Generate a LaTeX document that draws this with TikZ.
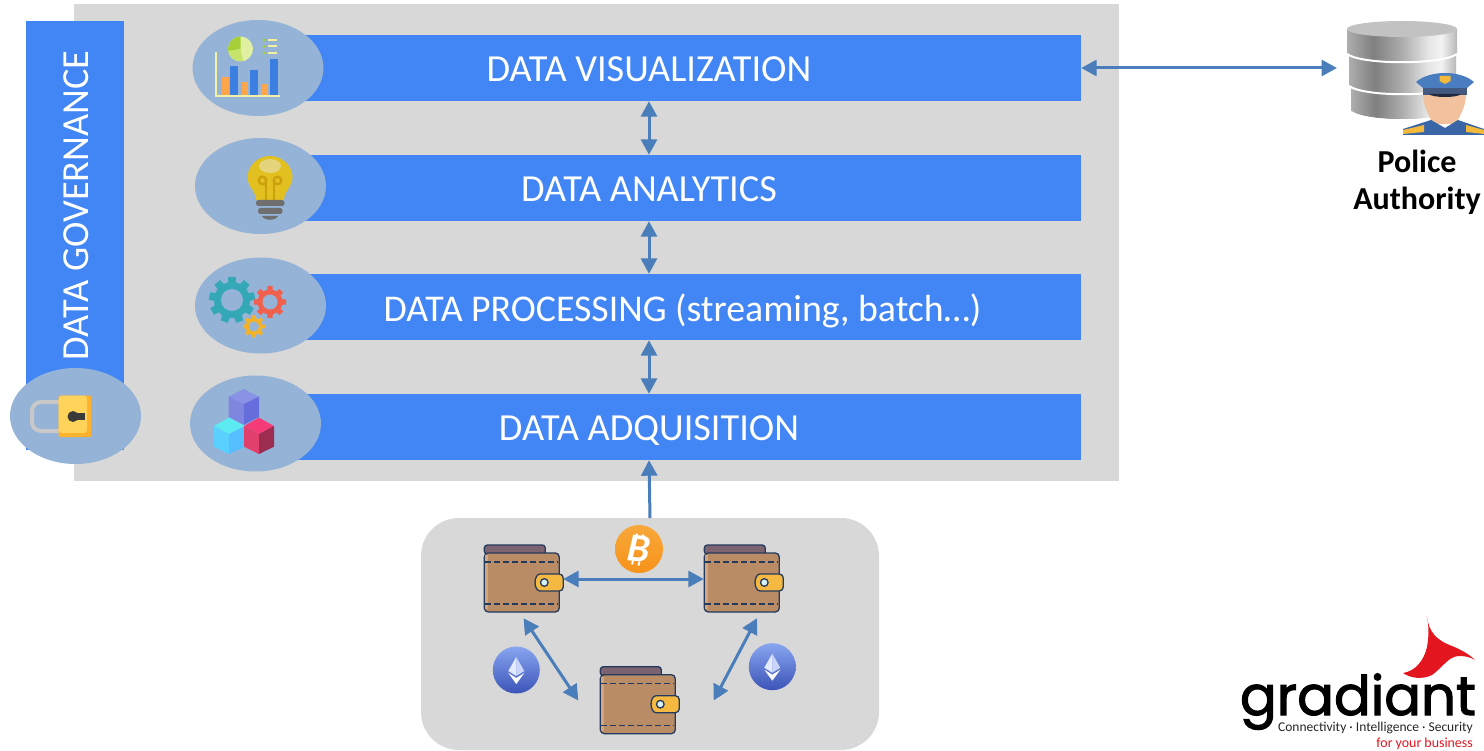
\documentclass[tikz,border=0pt]{standalone}
\usepackage{fontspec}
\setmainfont{Carlito}
\newfontfamily\logofont[FakeBold=2]{Poppins}
\usetikzlibrary{arrows.meta,calc,shapes.geometric}
\definecolor{panelgray}{HTML}{D8D8D8}
\definecolor{barblue}{HTML}{4285F4}
\definecolor{halocol}{HTML}{94B3D7}
\definecolor{conn}{HTML}{4A7EBB}
\definecolor{woutline}{HTML}{233A5E}
\definecolor{wbody}{HTML}{B98C66}
\definecolor{wedge}{HTML}{D2A67E}
\definecolor{wtop}{HTML}{7D6270}
\definecolor{wclasp}{HTML}{F5B942}
\definecolor{wbtn}{HTML}{D5F0F7}
\definecolor{logored}{HTML}{E3151F}
\definecolor{ethtop}{HTML}{88A5F0}
\definecolor{ethbot}{HTML}{3C54B8}
\definecolor{ethA}{HTML}{C9D5FA}
\definecolor{ethB}{HTML}{E4EAFD}
\definecolor{chorange}{HTML}{FFA64D}
\definecolor{chblue}{HTML}{3B7FE0}
\definecolor{chyellow}{HTML}{F5EFA0}
\definecolor{pieL}{HTML}{E0EFA0}
\definecolor{pieD}{HTML}{A5D038}
\definecolor{pieM}{HTML}{C6E36A}
\definecolor{bulbY}{HTML}{E2C020}
\definecolor{bulbL}{HTML}{E4D47C}
\definecolor{bulbF}{HTML}{CC9F0C}
\definecolor{bulbB}{HTML}{6F6F6F}
\definecolor{gearT}{HTML}{35A8B8}
\definecolor{gearR}{HTML}{F0604D}
\definecolor{gearY}{HTML}{F2B32B}
\definecolor{cuP1}{HTML}{8A92E6}
\definecolor{cuP2}{HTML}{7F86E0}
\definecolor{cuP3}{HTML}{666DDC}
\definecolor{cuC1}{HTML}{5CEBF0}
\definecolor{cuC2}{HTML}{59D0FF}
\definecolor{cuC3}{HTML}{55BFFF}
\definecolor{cuR1}{HTML}{F53C78}
\definecolor{cuR2}{HTML}{E2406C}
\definecolor{cuR3}{HTML}{9C2D50}
\definecolor{lockY}{HTML}{FFD25A}
\definecolor{lockO}{HTML}{FDB12C}
\definecolor{lockK}{HTML}{3A3A3A}
\definecolor{lockS}{HTML}{C8C8C8}
\definecolor{skincol}{HTML}{F2C29E}
\definecolor{unicol}{HTML}{3A66A8}
\definecolor{capblue}{HTML}{4A7DC0}
\definecolor{bandcol}{HTML}{44597F}
\definecolor{goldcol}{HTML}{F2B93B}
\definecolor{visorcol}{HTML}{1F2A3F}
\definecolor{btcT}{HTML}{F7A83A}
\definecolor{btcB}{HTML}{F7931A}
\pgfdeclarehorizontalshading{dbshade}{100bp}{
  color(0bp)=(black!32); color(25bp)=(black!32); color(37bp)=(black!50);
  color(50bp)=(black!32); color(62bp)=(black!10); color(68bp)=(black!5); color(75bp)=(black!28); color(100bp)=(black!28)}
\newcommand{\lfont}{\fontsize{38.3}{42}\selectfont}
\tikzset{
  x=1pt,y=-1pt,
  panelbox/.style={fill=panelgray,draw=none,inner sep=0,minimum width=#1},
  layer/.style={fill=barblue,draw=none,text=white,inner sep=0,minimum width=864,minimum height=66,font=\lfont,text height=30,text depth=4},
  halonode/.style={ellipse,fill=halocol,draw=none,inner sep=0,minimum width=131,minimum height=96},
  link/.style={conn,line width=3pt,{Triangle[length=15.5pt,width=16pt]}-{Triangle[length=15.5pt,width=16pt]}},
  uplink/.style={conn,line width=3pt,-{Triangle[length=15.5pt,width=16pt]}},
  walletbox/.style={draw=none,inner sep=0,minimum width=79,minimum height=68},
  walleticon/.pic={
    \draw[woutline,line width=1.3pt,fill=wtop,rounded corners=3pt] (0,9) -- (0,0) -- (61,0) -- (61,12) -- cycle;
    \draw[woutline,line width=1.3pt,fill=wbody,rounded corners=4pt] (0,8) -- (75,8) -- (75,67) -- (0,67) -- cycle;
    \fill[wedge] (1,10) rectangle (3.5,64);
    \draw[woutline,line width=1.3pt,dash pattern=on 6pt off 3pt] (1,17) -- (74,17) (1,59) -- (74,59);
    \draw[woutline,line width=1.3pt,fill=wclasp,rounded corners=4pt] (79,29) -- (79,46) -- (60,46) .. controls (49,46) and (49,29) .. (60,29) -- cycle;
    \draw[woutline,line width=1.3pt,fill=wbtn] (60,37.5) circle[radius=3.8pt];
  },
  ethcoin/.pic={
    \shade[top color=ethtop,bottom color=ethbot] (0,0) circle[radius=23.5pt];
    \fill[ethA] (0,-13) -- (8,1) -- (0,6) -- cycle;
    \fill[ethB] (0,-13) -- (-8,1) -- (0,6) -- cycle;
    \fill[white] (-8,3) -- (0,8) -- (8,3) -- (0,14) -- cycle;
  }
}
\newcommand{\gearat}[7]{%
  \foreach \a in {1,...,#6}{%
    \fill[#7,shift={(#1,#2)},rotate=\a*360/#6] (-0.16*#3,-#3) -- (0.16*#3,-#3) -- (0.22*#3,0) -- (-0.22*#3,0) -- cycle;
  }%
  \fill[#7] (#1,#2) circle[radius=#4];
  \fill[halocol] (#1,#2) circle[radius=#5];
}
\begin{document}
\begin{tikzpicture}
\useasboundingbox (0,0) rectangle (1484,751);
% panels
\node[panelbox=1045,minimum height=477] (main) at (596.5,242.5) {};
\node[panelbox=458,minimum height=232,rounded corners=38pt] (pod) at (650,634) {};
% governance
\node[fill=barblue,inner sep=0,minimum width=98,minimum height=429] (gov) at (75,235.5) {};
\node[text=white,font=\lfont,rotate=90,inner sep=0,text height=24.5,text depth=0] (govt) at (76,205.5) {DATA GOVERNANCE};
% layers
\node[layer,text height=31,text depth=3] (vis) at (649,68) {DATA VISUALIZATION};
\node[layer,text height=31,text depth=3] (ana) at (649,188) {DATA ANALYTICS};
\node[layer,font=\fontsize{37.8}{42}\selectfont,text height=32,text depth=2] (pro) at (649,307) {\hspace*{67pt}DATA PROCESSING (streaming, batch…)};
\node[layer] (acq) at (649,427) {DATA ADQUISITION};
% halos
\node[halonode] (h1) at (258,68) {};
\node[halonode] (h2) at (260.5,186) {};
\node[halonode] (h3) at (260.5,305.5) {};
\node[halonode] (h4) at (255.5,423.5) {};
\node[halonode] (h5) at (75.5,416) {};
% chart icon
\fill[chorange] (222,77.5) rectangle (228.5,96);
\fill[chorange] (241.5,82) rectangle (248,96);
\fill[chorange] (261,84) rectangle (268,96);
\fill[chblue] (230,66.5) rectangle (237.5,96);
\fill[chblue] (250,70.5) rectangle (257.5,96);
\fill[chblue] (270,59.5) rectangle (277.5,96);
\draw[chyellow,line width=1.5pt] (216,52) -- (216,96) -- (280,96);
\fill[pieL] (240.5,49) circle[radius=12.5pt];
\fill[pieD] (240.5,49) -- (240.5,36.5) .. controls (233,36.5) and (228,42) .. (228,51) -- cycle;
\fill[pieM] (240.5,49) -- (228,51) .. controls (229,57) and (234,61.5) .. (243,61) -- cycle;
\foreach \yy in {40,46.5,53}{
  \fill[pieD] (264,\yy) circle[radius=1.6pt];
  \fill[chyellow] (268,\yy-1) rectangle (277,\yy+1);
}
% bulb icon
\fill[bulbY] (270,156) .. controls (284,156) and (292.5,168) .. (292.5,177) .. controls (292.5,187) and (284,191) .. (284,200) -- (256,200) .. controls (256,191) and (247.5,187) .. (247.5,177) .. controls (247.5,168) and (256,156) .. (270,156) -- cycle;
\fill[bulbL] (270,166) ellipse[x radius=11pt,y radius=7pt];
\draw[bulbF,line width=2.4pt] (266,200) -- (266,180) (274,200) -- (274,180);
\draw[bulbF,line width=2.4pt] (262.5,180.5) circle[radius=3.8pt] (277.5,180.5) circle[radius=3.8pt];
\fill[bulbB,rounded corners=2.5pt] (256,200) rectangle (284.5,206);
\fill[bulbB,rounded corners=2.5pt] (258,208) rectangle (282.5,214);
\fill[bulbB] (262,216) -- (278,216) .. controls (276,221) and (264,221) .. (262,216) -- cycle;
% gears
\gearat{232}{300}{23}{18}{11}{9}{gearT}
\gearat{270}{302}{16}{12.5}{7.5}{8}{gearR}
\gearat{254}{326.5}{11}{8.5}{5}{8}{gearY}
% cubes
\fill[cuP1] (243.7,389) -- (259,396.7) -- (243.7,404) -- (228.7,396.7) -- cycle;
\fill[cuP2] (228.7,396.7) -- (243.7,404) -- (243.7,425) -- (228.7,417) -- cycle;
\fill[cuP3] (259,396.7) -- (243.7,404) -- (243.7,425) -- (259,417) -- cycle;
\fill[cuC1] (229,417.7) -- (245,426) -- (229,434) -- (213.7,426) -- cycle;
\fill[cuC2] (213.7,426) -- (229,434) -- (229,454) -- (213.7,446.7) -- cycle;
\fill[cuC3] (245,426) -- (229,434) -- (229,454) -- (245,446.7) -- cycle;
\fill[cuR1] (259,417.7) -- (274,426) -- (259,434) -- (244,426) -- cycle;
\fill[cuR2] (244,426) -- (259,434) -- (259,454) -- (244,446.7) -- cycle;
\fill[cuR3] (274,426) -- (259,434) -- (259,454) -- (274,446.7) -- cycle;
% lock
\draw[lockS,line width=4pt,rounded corners=9pt] (60,402) -- (32,402) -- (32,431) -- (60,431);
\fill[lockO,rounded corners=1pt] (58.7,395.7) rectangle (91,437);
\fill[lockY,rounded corners=3pt] (58.7,395.7) -- (87,395.7) -- (87,433) -- (58.7,433) -- cycle;
\fill[lockK] (73,416.5) circle[radius=5.5pt];
\fill[lockK] (73,413) rectangle (85,420);
% database
\foreach \xa/\xb/\ya/\yb in {1351/1454/88/111,1349/1456/56/85,1347/1457/29/53}{
  \shade[shading=dbshade] (\xa,\ya) -- (\xb,\ya) -- (\xb,\yb) .. controls (\xb-15,\yb+11) and (\xa+15,\yb+11) .. (\xa,\yb) -- cycle;
  \draw[white,line width=2pt] (\xb,\yb+1) .. controls (\xb-15,\yb+12) and (\xa+15,\yb+12) .. (\xa,\yb+1);
}
\fill[black!24] (1402,29) ellipse[x radius=55pt,y radius=8pt];
% officer
\fill[skincol] (1423,93) -- (1466,93) .. controls (1466,110) and (1458,116) .. (1457,124) -- (1432,124) .. controls (1431,116) and (1423,110) .. (1423,93) -- cycle;
\fill[unicol] (1403,135) -- (1403,129) -- (1431,120) -- (1445,128) -- (1458,120) -- (1484,129) -- (1484,135) -- cycle;
\fill[goldcol] (1403,130) -- (1424,125) -- (1424,132) -- (1403,134) -- cycle;
\fill[goldcol] (1466,125) -- (1484,130) -- (1484,134) -- (1466,132) -- cycle;
\fill[bandcol] (1423,84) rectangle (1467,95);
\fill[visorcol] (1429,94) -- (1461,94) .. controls (1458,98) and (1432,98) .. (1429,94) -- cycle;
\fill[capblue] (1416,82) .. controls (1424,75) and (1436,73) .. (1445,73) .. controls (1454,73) and (1466,75) .. (1474,82) -- (1467,88) -- (1423,88) -- cycle;
\fill[goldcol] (1439.5,76) -- (1450.5,76) -- (1450.5,81) -- (1445,84) -- (1439.5,81) -- cycle;
\node[font=\fontsize{32}{37}\selectfont\bfseries,align=center,inner sep=0] (police) at (1417,182) {Police\\Authority};
\coordinate (pol) at (1337,68);
\coordinate (podtop) at (650,518);
% wallets
\node[walletbox] (w1) at (523.5,579) {};
\node[walletbox] (w2) at (743.5,579) {};
\node[walletbox] (w3) at (640,700.5) {};
\pic at (484.3,545) {walleticon};
\pic at (704.3,545) {walleticon};
\pic at (600.3,666.7) {walleticon};
% coins
\shade[top color=btcT,bottom color=btcB] (639,549) circle[radius=24pt];
\node[white,font=\fontsize{40}{40}\selectfont\bfseries\itshape,rotate=-6,inner sep=0] (btc) at (639,549) {B};
\draw[white,line width=2pt] (637,533.5) -- (636,537.5) (643.5,534.5) -- (642.5,538.5) (633,560.5) -- (632,564.5) (639.5,561.5) -- (638.5,565.5);
\pic at (516.3,670) {ethcoin};
\pic at (772.3,666.7) {ethcoin};
% connectors
\draw[link] (vis.south) -- (ana.north);
\draw[link] (ana.south) -- (pro.north);
\draw[link] (pro.south) -- (acq.north);
\draw[link] (vis.east) -- (pol);
\draw[uplink] (podtop) -- (acq.south);
\draw[link] (w1.east) -- (w2.west);
\draw[link] ($(w1.south)+(0,5)$) -- ($(w3.west)+(-22,0)$);
\draw[link] ($(w2.south)+(13.5,5)$) -- ($(w3.east)+(34,0)$);
% logo
\fill[logored] (1426.7,616) .. controls (1429,632) and (1436,640) .. (1452,646) .. controls (1462,650) and (1470,655) .. (1475,660) .. controls (1468,656) and (1463,656) .. (1458,656) .. controls (1448,657) and (1442,668) .. (1432,675) .. controls (1422,680) and (1410,678) .. (1403,673) .. controls (1416,671) and (1424,660) .. (1427,647) .. controls (1429,636) and (1429,626) .. (1426.7,616) -- cycle;
\node[anchor=base east,inner sep=0,font=\logofont\fontsize{54.5}{54}\selectfont,text=black] (logo) at (1476,715) {gradiant};
\node[anchor=base east,inner sep=0,font=\fontsize{13.5}{15}\selectfont,text=black!85] (tag1) at (1473,731.5) {Connectivity · Intelligence · Security};
\node[anchor=base east,inner sep=0,font=\fontsize{13.9}{15}\selectfont,text=logored] (tag2) at (1473,747) {for your business};
\end{tikzpicture}
\end{document}
